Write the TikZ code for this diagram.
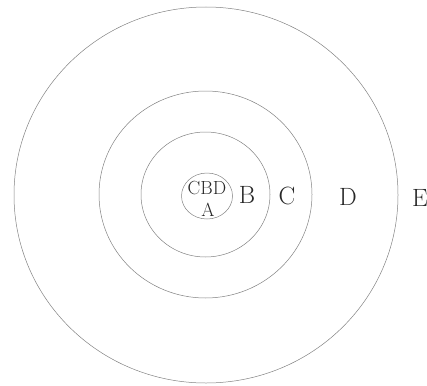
\documentclass[tikz,border=0pt]{standalone}
\usepackage{tikz}

\tikzset{
    ring/.style={color={rgb,255:red,130; green,130; blue,130}, line width=0.5pt},
    zonelabel/.style={font=\fontsize{25}{25}\selectfont, text={rgb,255:red,40; green,40; blue,40}, inner sep=0pt},
    corelabel/.style={font=\fontsize{19}{19}\selectfont, text={rgb,255:red,40; green,40; blue,40}, inner sep=0pt}
}

\begin{document}
\begin{tikzpicture}[x=1pt, y=-1pt]
    \useasboundingbox (0,0) rectangle (427,385);
    \draw [ring] (206,195) ellipse [x radius=192, y radius=188];
    \draw [ring] (205.5,194.5) ellipse [x radius=106.5, y radius=103.5];
    \draw [ring] (205.5,194.5) ellipse [x radius=64.5, y radius=62.5];
    \draw [ring] (207,196) ellipse [x radius=25.5, y radius=23];
    \node [corelabel] (cbd) at (207,188) {CBD};
    \node [corelabel] (zoneA) at (208,210) {A};
    \node [zonelabel] (zoneB) at (247,195) {B};
    \node [zonelabel] (zoneC) at (287,196) {C};
    \node [zonelabel] (zoneD) at (348,197) {D};
    \node [zonelabel] (zoneE) at (420,198) {E};
\end{tikzpicture}
\end{document}
